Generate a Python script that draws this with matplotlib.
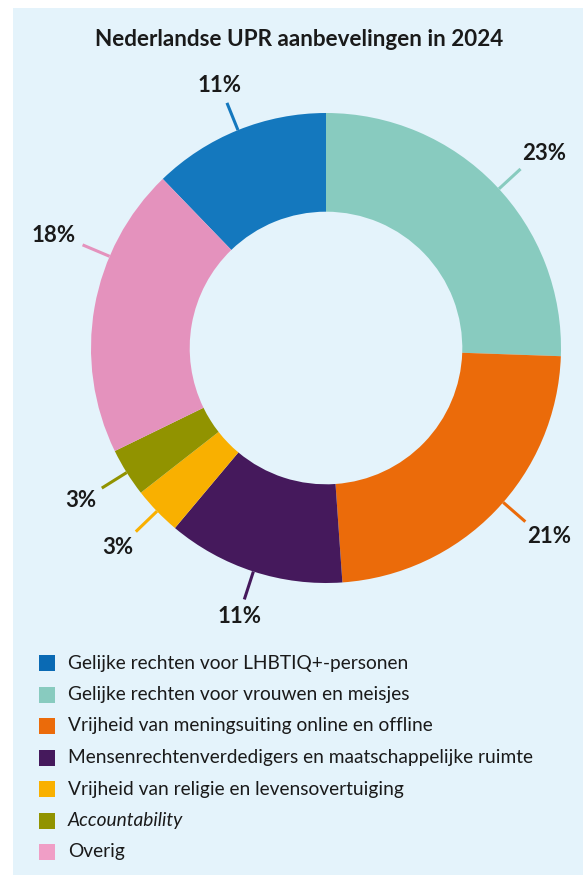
import matplotlib
matplotlib.use("Agg")
import matplotlib.pyplot as plt
from matplotlib.patches import Rectangle
import numpy as np

title = "Nederlandse UPR aanbevelingen in 2024"
categories = [
    "Gelijke rechten voor LHBTIQ+-personen",
    "Gelijke rechten voor vrouwen en meisjes",
    "Vrijheid van meningsuiting online en offline",
    "Mensenrechtenverdedigers en maatschappelijke ruimte",
    "Vrijheid van religie en levensovertuiging",
    "Accountability",
    "Overig",
]
values = [11, 23, 21, 11, 3, 3, 18]
labels = ["11%", "23%", "21%", "11%", "3%", "3%", "18%"]
colors = ["#1478BE", "#88CBBF", "#EB6B0A", "#45195C", "#F9B000", "#919300", "#E492BD"]
legend_colors = ["#0A6AB4", "#88CBBF", "#EB6B0A", "#45195C", "#F9B000", "#919300", "#F09EC6"]
# where along each wedge (0..1 from theta1) the leader line sits
label_frac = [0.5, 0.485, 0.535, 0.5, 0.5, 0.5, 0.32]

BG = "#E4F3FB"
TXT = "#1A1A1A"
FONT = ["Lato", "DejaVu Sans"]
plt.rcParams["font.family"] = FONT

W, H = 583, 875
fig = plt.figure(figsize=(W / 100, H / 100), dpi=100)
fig.patch.set_facecolor("white")
fig.add_artist(Rectangle((13 / W, 0), 1 - 13 / W, 1 - 8 / H, transform=fig.transFigure,
                         facecolor=BG, edgecolor="none", zorder=0))

fig.text(299 / W, 1 - 40 / H, title, ha="center", va="center", fontsize=16.2,
         fontweight="bold", color=TXT)

# donut axes: center (326, 348), outer radius 235 px
R = 235
cx, cy = 326, 348
ax = fig.add_axes([(cx - R) / W, 1 - (cy + R) / H, 2 * R / W, 2 * R / H])
ax.set_facecolor("none")
total = sum(values)
start = 90 + 360 * values[0] / total
wedges, _ = ax.pie(values, colors=colors, startangle=start, counterclock=False,
                   radius=1.0, wedgeprops=dict(width=0.42, edgecolor="none"))
ax.set_xlim(-1, 1)
ax.set_ylim(-1, 1)
ax.set_aspect("equal")
ax.axis("off")

for w, lab, col, fr in zip(wedges, labels, colors, label_frac):
    ang = np.deg2rad(w.theta1 + fr * (w.theta2 - w.theta1))
    c, s = np.cos(ang), np.sin(ang)
    ax.plot([c * 1.0, c * 1.125], [s * 1.0, s * 1.125], color=col, lw=2.2,
            solid_capstyle="butt", clip_on=False)
    hw = 7.2 * len(lab)
    dx = c * (hw + 10) * min(1.0, abs(c) / 0.6) * 0.72
    dy = s * (14 + 12 * abs(c)) * 0.72
    ax.annotate(lab, xy=(c * 1.125, s * 1.125), xytext=(dx, dy),
                textcoords="offset points", ha="center", va="center",
                fontsize=16, fontweight="bold", color=TXT, annotation_clip=False)

# legend
row0 = 663
step = 31.5
for i, (cat, col) in enumerate(zip(categories, legend_colors)):
    y = row0 + i * step
    fig.add_artist(Rectangle((39 / W, 1 - (y + 8) / H), 16 / W, 16 / H,
                             transform=fig.transFigure, facecolor=col, edgecolor="none"))
    fig.text(68 / W, 1 - y / H, cat, ha="left", va="center", fontsize=13.8,
             color=TXT, style="italic" if cat == "Accountability" else "normal")

fig.savefig("out.png", dpi=100)
